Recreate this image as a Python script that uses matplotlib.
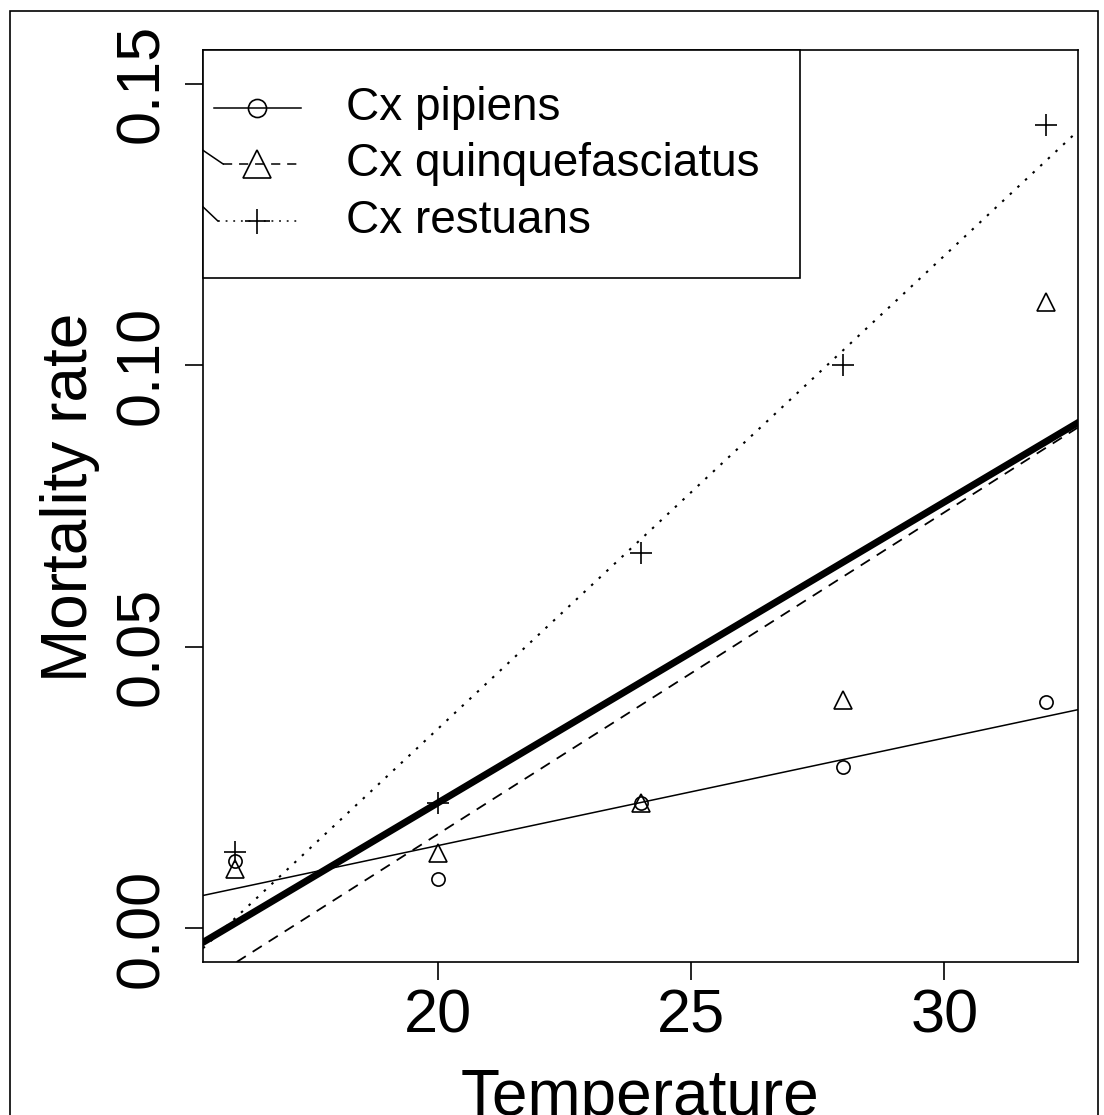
import numpy as np
import matplotlib
matplotlib.use('Agg')
from matplotlib import pyplot as plt
from matplotlib.patches import Rectangle

plt.rcParams['font.family'] = ['Liberation Sans', 'DejaVu Sans']

# mortality rate per species at each rearing temperature
temperature = [16, 20, 24, 28, 32]
pipiens = [0.0119, 0.0087, 0.0222, 0.0287, 0.0401]
quinque = [0.0106, 0.0133, 0.0222, 0.0405, 0.1113]
restuans = [0.0135, 0.0223, 0.0667, 0.1000, 0.1427]

species = ['Cx pipiens', 'Cx quinquefasciatus', 'Cx restuans']
y_ticks = [0.00, 0.05, 0.10, 0.15]
x_ticks = [20, 25, 30]

fig = plt.figure(figsize=(11.04, 11.15), dpi=100)
ax = fig.add_axes([203/1104, 1 - 962/1115, 875/1104, 912/1115])

lw = 1.2
ax.plot(temperature, pipiens, 'o', ms=9.5, mfc='none', mec='k', mew=lw)
ax.plot(temperature, quinque, '^', ms=13, mfc='none', mec='k', mew=lw)
ax.plot(temperature, restuans, '+', ms=16, mec='k', mew=lw)

# per-species linear fits plus the pooled fit
x = np.array(temperature, dtype=float)
fits = []
for vals in (pipiens, quinque, restuans):
    fits.append(np.polyfit(x, vals, 1))
pooled = np.polyfit(np.tile(x, 3), np.concatenate([pipiens, quinque, restuans]), 1)

styles = [dict(ls='-', lw=1.1), dict(ls=(0, (6, 4.5)), lw=1.3), dict(ls=(0, (1.2, 3.8)), lw=1.5)]
for (m, b), st in zip(fits, styles):
    ax.axline((0, b), slope=m, color='k', **st)
ax.axline((0, pooled[1]), slope=pooled[0], color='k', lw=5)

ax.set_xlim(15.36, 32.64)
ax.set_ylim(-0.006, 0.156)
ax.set_xticks(x_ticks)
ax.set_xticklabels([str(t) for t in x_ticks], fontsize=44)
ax.set_yticks(y_ticks)
ax.set_yticklabels([f'{t:.2f}' for t in y_ticks], fontsize=44, rotation=90, va='center')
ax.tick_params(axis='both', direction='out', length=13, width=lw)
ax.tick_params(axis='x', pad=6)
ax.tick_params(axis='y', pad=10)
for s in ax.spines.values():
    s.set_linewidth(lw)

ax.set_xlabel('Temperature', fontsize=46)
ax.set_ylabel('Mortality rate', fontsize=46)
ax.xaxis.set_label_coords(0.5, -0.116)
ax.yaxis.set_label_coords(-0.118, 0.51)

# legend box drawn by hand in the top left corner
tr = ax.transAxes
ax.add_patch(Rectangle((0, 0.75), 0.682, 0.25, transform=tr, fc='white', ec='k',
                       lw=lw, zorder=5, clip_on=False))
rows = [0.9364, 0.875, 0.8125]
markers = [dict(marker='o', ms=13), dict(marker='^', ms=20), dict(marker='+', ms=18)]
lead = [None, (0.890, 0.023), (0.828, 0.017)]
for yr, name, st, mk, ld in zip(rows, species, styles, markers, lead):
    x0 = 0.0126
    if ld is not None:
        # short solid stroke running in from the left edge
        ax.plot([0, ld[1]], [ld[0], yr], color='k', transform=tr, zorder=6,
                clip_on=False, lw=1.1)
        x0 = ld[1]
    ax.plot([x0, 0.112], [yr, yr], color='k', transform=tr, zorder=6, clip_on=False,
            ls=st['ls'], lw=1.1)
    ax.plot([0.0617], [yr], transform=tr, zorder=6, clip_on=False,
            mfc='none', mec='k', mew=lw, ls='none', **mk)
    ax.text(0.163, yr, name, transform=tr, fontsize=33, va='center', zorder=7)

# frame around the whole figure
fig.add_artist(Rectangle((10/1104, -0.02), 1088/1104, 1.02 - 11/1115,
                         transform=fig.transFigure, fill=False, ec='k', lw=lw))

fig.savefig('out.png', dpi=100)
